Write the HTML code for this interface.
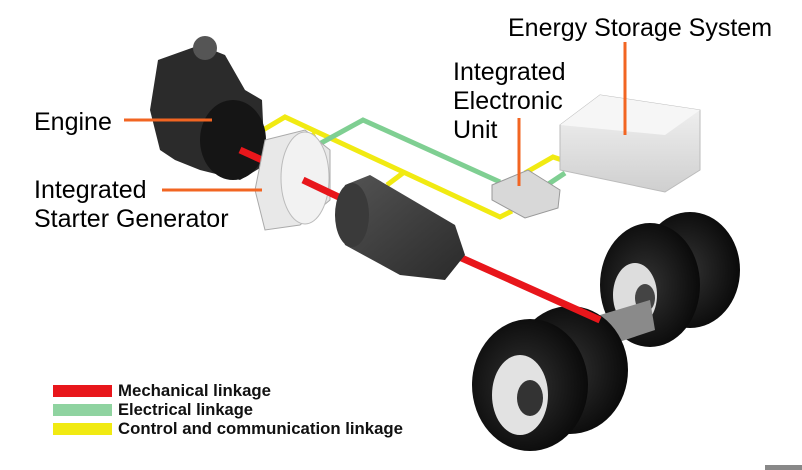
<!DOCTYPE html>
<html><head><style>
html,body{margin:0;padding:0;background:#fff;}
svg{display:block;}
</style></head><body>
<svg width="802" height="470" viewBox="0 0 802 470" xmlns="http://www.w3.org/2000/svg" font-family="'Liberation Sans', sans-serif">
<defs>
<radialGradient id="tire" cx="0.45" cy="0.5" r="0.55"><stop offset="0" stop-color="#333"/><stop offset="1" stop-color="#0a0a0a"/></radialGradient>
<linearGradient id="trans" x1="0" y1="0" x2="1" y2="1"><stop offset="0" stop-color="#555"/><stop offset="1" stop-color="#2a2a2a"/></linearGradient>
<linearGradient id="box" x1="0" y1="0" x2="0" y2="1"><stop offset="0" stop-color="#f4f4f4"/><stop offset="1" stop-color="#cfcfcf"/></linearGradient>
</defs>
<rect width="802" height="470" fill="#fff"/>
<rect x="765" y="465" width="37" height="5" fill="#888"/>

<ellipse cx="690" cy="270" rx="50" ry="58" fill="url(#tire)"/>
<ellipse cx="650" cy="285" rx="50" ry="62" fill="url(#tire)"/>
<ellipse cx="635" cy="295" rx="22" ry="32" fill="#ddd"/>
<ellipse cx="645" cy="298" rx="10" ry="14" fill="#444"/>
<polygon points="600,315 650,300 655,330 610,345" fill="#8a8a8a"/>
<ellipse cx="570" cy="370" rx="58" ry="64" fill="url(#tire)"/>
<ellipse cx="530" cy="385" rx="58" ry="66" fill="url(#tire)"/>
<ellipse cx="520" cy="395" rx="28" ry="40" fill="#e2e2e2"/>
<ellipse cx="530" cy="398" rx="13" ry="18" fill="#333"/>

<line x1="455" y1="255" x2="600" y2="320" stroke="#e8161b" stroke-width="7"/>

<polyline points="263,130 285,117 500,217 512,211" fill="none" stroke="#f1ea12" stroke-width="5"/>
<polyline points="297,143 315,134" fill="none" stroke="#f1ea12" stroke-width="5"/>
<polyline points="387,185 403,173" fill="none" stroke="#f1ea12" stroke-width="5"/>
<polyline points="525,173 553,157 565,161" fill="none" stroke="#f1ea12" stroke-width="5"/>
<polyline points="312,148 363,120 500,182" fill="none" stroke="#7fcf92" stroke-width="5"/>
<polyline points="547,185 565,173" fill="none" stroke="#7fcf92" stroke-width="5"/>

<path d="M158,60 L200,45 L225,55 L245,90 L262,100 L265,165 L240,180 L200,170 L175,160 L160,150 L150,110 Z" fill="#2b2b2b"/>
<circle cx="205" cy="48" r="12" fill="#555"/>
<ellipse cx="233" cy="140" rx="33" ry="40" fill="#151515"/>
<line x1="240" y1="150" x2="262" y2="160" stroke="#e8161b" stroke-width="7"/>

<path d="M265,140 L305,130 L330,150 L330,200 L300,225 L265,230 L255,190 Z" fill="#e8e8e8" stroke="#aaa"/>
<ellipse cx="305" cy="178" rx="24" ry="46" fill="#f2f2f2" stroke="#bbb"/>
<line x1="303" y1="180" x2="345" y2="200" stroke="#e8161b" stroke-width="7"/>

<path d="M345,185 L370,175 L455,225 L465,255 L445,280 L400,275 L345,245 L335,215 Z" fill="url(#trans)"/>
<ellipse cx="352" cy="215" rx="17" ry="32" fill="#3a3a3a"/>

<polygon points="492,185 528,170 560,190 558,208 525,218 492,200" fill="#d8d8d8" stroke="#999"/>

<polygon points="560,125 600,95 700,110 700,170 665,192 560,170" fill="url(#box)" stroke="#bbb"/>
<polygon points="560,125 600,95 700,110 665,135" fill="#f6f6f6"/>

<g fill="#000" font-size="25">
<text x="508" y="36">Energy Storage System</text>
<text x="453" y="80">Integrated</text>
<text x="453" y="109">Electronic</text>
<text x="453" y="138">Unit</text>
<text x="34" y="130">Engine</text>
<text x="34" y="198">Integrated</text>
<text x="34" y="227">Starter Generator</text>
</g>
<g stroke="#f26522" stroke-width="3">
<line x1="124" y1="120" x2="212" y2="120"/>
<line x1="162" y1="190" x2="262" y2="190"/>
<line x1="519" y1="118" x2="519" y2="186"/>
<line x1="625" y1="42" x2="625" y2="135"/>
</g>

<rect x="53" y="385" width="59" height="12" fill="#e8161b"/>
<rect x="53" y="404" width="59" height="12" fill="#8fd3a0"/>
<rect x="53" y="423" width="59" height="12" fill="#f1ea12"/>
<g font-size="17" fill="#111" font-weight="bold">
<text x="118" y="396" textLength="153" lengthAdjust="spacingAndGlyphs">Mechanical linkage</text>
<text x="118" y="415" textLength="135" lengthAdjust="spacingAndGlyphs">Electrical linkage</text>
<text x="118" y="434" textLength="285" lengthAdjust="spacingAndGlyphs">Control and communication linkage</text>
</g>
</svg>
</body></html>
